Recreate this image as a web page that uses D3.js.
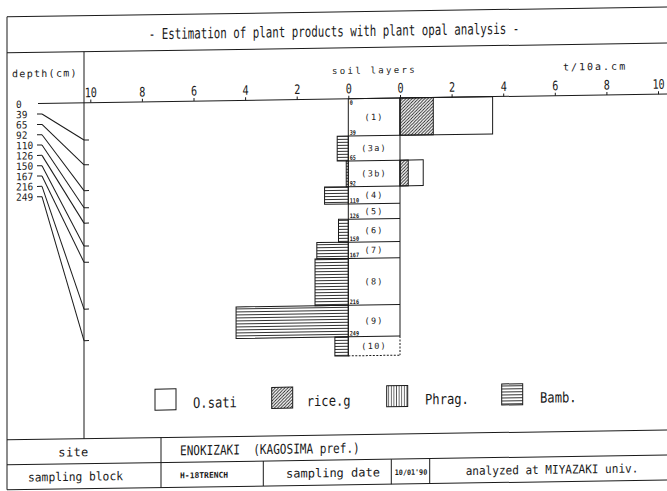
<!DOCTYPE html>
<html>
<head>
<meta charset="utf-8">
<script src="https://cdn.jsdelivr.net/npm/d3@7"></script>
<style>
html, body { margin: 0; padding: 0; background: #fff; }
svg { display: block; }
text { font-family: "DejaVu Sans Mono", monospace; fill: #1a1a1a; white-space: pre; }
</style>
</head>
<body>
<svg id="chart" width="667" height="491"></svg>
<script>
// Soil layers and their depth boundaries (cm)
const layers      = ["(1)", "(3a)", "(3b)", "(4)", "(5)", "(6)", "(7)", "(8)", "(9)", "(10)"];
const depthTop    = [0, 39, 65, 92, 110, 126, 150, 167, 216, 249];
const depthBottom = [39, 65, 92, 110, 126, 150, 167, 216, 249, 269];
const depthLabels = [0, 39, 65, 92, 110, 126, 150, 167, 216, 249];

// Estimated plant products (t/10a.cm) per layer
const oSati = [3.59, 0, 0.90, 0, 0, 0, 0, 0, 0, 0];
const riceG = [1.29, 0, 0.32, 0, 0, 0, 0, 0, 0, 0];
const phrag = [0, 0, 0, 0, 0, 0, 0, 0, 0, 0];
const bamb  = [0, 0.43, 0.08, 0.92, 0, 0.38, 1.22, 1.29, 4.35, 0.52];

// Axis ticks
const leftTicks  = [10, 8, 6, 4, 2, 0];
const rightTicks = [0, 2, 4, 6, 8, 10];

// Legend and text blocks
const legendNames = ["O.sati", "rice.g", "Phrag.", "Bamb."];
const legendFills = ["#fff", "url(#hatchDiag)", "url(#hatchVert)", "url(#hatchHorz)"];
const titleText   = "- Estimation of plant products with plant opal analysis -";
const siteName    = "ENOKIZAKI  (KAGOSIMA pref.)";
const blockName   = "H-18TRENCH";
const sampleDate  = "10/01'90";
const analyzedAt  = "analyzed at MIYAZAKI univ.";

const svg = d3.select("#chart");
const INK = "#1a1a1a";

// patterns
const defs = svg.append("defs");
defs.append("pattern").attr("id", "hatchDiag").attr("patternUnits", "userSpaceOnUse")
  .attr("width", 3.2).attr("height", 3.2)
  .append("path").attr("d", "M-1,1 L1,-1 M0,3.2 L3.2,0 M2.2,4.2 L4.2,2.2")
  .attr("stroke", INK).attr("stroke-width", 0.9);
defs.append("pattern").attr("id", "hatchHorz").attr("patternUnits", "userSpaceOnUse")
  .attr("width", 4).attr("height", 3)
  .append("line").attr("x1", 0).attr("x2", 4).attr("y1", 1.5).attr("y2", 1.5)
  .attr("stroke", INK).attr("stroke-width", 0.8);
defs.append("pattern").attr("id", "hatchVert").attr("patternUnits", "userSpaceOnUse")
  .attr("width", 2.6).attr("height", 4)
  .append("line").attr("x1", 1.3).attr("x2", 1.3).attr("y1", 0).attr("y2", 4)
  .attr("stroke", INK).attr("stroke-width", 0.7);

// the plotted sheet sits slightly askew
const skewDeg = -0.85;
const kk = Math.tan(skewDeg * Math.PI / 180);
const root = svg.append("g").attr("transform", `translate(0,${-kk * 333}) skewY(${skewDeg})`);

function txt(g, s, x, y, o = {}) {
  return g.append("text")
    .attr("transform", `translate(${x},${y}) scale(${o.sx || 1},1)`)
    .attr("font-size", o.size || 12)
    .attr("text-anchor", o.anchor || "start")
    .attr("letter-spacing", o.ls || 0)
    .attr("font-weight", o.bold ? "bold" : "normal")
    .attr("xml:space", "preserve")
    .text(s);
}
function line(g, x1, y1, x2, y2, dash) {
  const l = g.append("line").attr("x1", x1).attr("y1", y1).attr("x2", x2).attr("y2", y2)
    .attr("stroke", INK).attr("stroke-width", 1);
  if (dash) l.attr("stroke-dasharray", dash);
  return l;
}

// scales
const y  = d3.scaleLinear().domain([0, 249]).range([99, 337]);
const xL = d3.scaleLinear().domain([0, 10]).range([348.3, 90.3]);
const xR = d3.scaleLinear().domain([0, 10]).range([400, 658]);

// frame and title
line(root, 7, 12, 700, 12);
line(root, 7, 48, 700, 48);
line(root, 7, 12, 7, 485);
txt(root, titleText, 334, 36.5, { size: 15, sx: 0.72, anchor: "middle" });

// depth column
line(root, 84, 48, 84, 435);
txt(root, "depth(cm)", 12, 72.6, { size: 10, ls: 1.3 });
txt(root, "soil layers", 332, 74, { size: 9, ls: 2.3 });
txt(root, "t/10a.cm", 563, 74, { size: 10, ls: 2 });

// bars: left (Bamb., Phrag.), right (O.sati, rice.g)
const rows = layers.map((name, i) => ({
  name, i, top: depthTop[i], bot: depthBottom[i],
  oSati: oSati[i], riceG: riceG[i], phrag: phrag[i], bamb: bamb[i]
}));
const bars = root.append("g");
function drawBars(key, scale, fill, left) {
  bars.selectAll(null).data(rows.filter(d => d[key] > 0)).enter().append("rect")
    .attr("x", d => left ? scale(d[key]) : scale(0))
    .attr("width", d => Math.abs(scale(d[key]) - scale(0)))
    .attr("y", d => y(d.top))
    .attr("height", d => y(d.bot) - y(d.top))
    .attr("fill", fill).attr("stroke", INK).attr("stroke-width", 1);
}
drawBars("bamb", xL, "url(#hatchHorz)", true);
drawBars("phrag", xL, "url(#hatchVert)", true);
drawBars("oSati", xR, "#fff", false);
drawBars("riceG", xR, "url(#hatchDiag)", false);

// soil layer column
const colL = xL(0), colR = xR(0), colM = (colL + colR) / 2;
const last = rows.length - 1;
line(root, colL, y(0), colL, y(depthBottom[last]));
line(root, colR, y(0), colR, y(depthTop[last]));
line(root, colR, y(depthTop[last]), colR, y(depthBottom[last]), "2,1.5");
line(root, colL, y(depthBottom[last]), colR, y(depthBottom[last]), "2,1.5");
rows.forEach(d => {
  line(root, colL, y(d.top), colR, y(d.top));
  txt(root, d.name, colM, (y(d.top) + y(d.bot)) / 2 + 3, { size: 8.5, ls: 1.3, anchor: "middle" });
});
depthLabels.forEach(dv => {
  const yy = dv === 0 ? y(dv) + 6 : y(dv) - 1.2;
  txt(root, String(dv), colL + 1.5, yy, { size: 6, bold: true, sx: 0.85 });
});

// top axes
const axisY = y(0);
line(root, 38, axisY, 700, axisY);
function styleAxis(sel) {
  sel.select(".domain").remove();
  sel.selectAll(".tick line").attr("stroke", INK);
  sel.selectAll(".tick text").attr("font-size", 13).attr("fill", INK)
    .attr("font-family", "DejaVu Sans Mono, monospace")
    .attr("transform", "scale(0.78,1)").attr("y", -5.5);
}
root.append("g").attr("transform", `translate(0,${axisY})`)
  .call(d3.axisTop(xL).tickValues(leftTicks).tickSize(3).tickFormat(d3.format("d")))
  .call(styleAxis);
root.append("g").attr("transform", `translate(0,${axisY})`)
  .call(d3.axisTop(xR).tickValues(rightTicks).tickSize(3).tickFormat(d3.format("d")))
  .call(styleAxis);

// depth labels with leader lines to the depth axis
depthLabels.forEach((dv, i) => {
  const ly = 99.4 + i * 10.33;
  txt(root, String(dv), 16, ly + 3.8, { size: 10, sx: 0.95 });
  if (i > 0) {
    line(root, 37, ly, 42, ly);
    line(root, 42, ly, 84, y(dv));
    line(root, 84, y(dv), 89, y(dv));
  }
});

// legend
const legX = [155, 271.7, 386.7, 501.7];
const legT = [193, 306.7, 425, 540];
legendNames.forEach((n, i) => {
  root.append("rect").attr("x", legX[i]).attr("y", 386.5).attr("width", 21).attr("height", 21)
    .attr("fill", legendFills[i]).attr("stroke", INK).attr("stroke-width", 1);
  txt(root, n, legT[i], 405.8, { size: 14.5, sx: 0.84 });
});

// info table
line(root, 7, 435, 700, 435);
line(root, 7, 460, 700, 460);
line(root, 7, 485, 700, 485);
line(root, 161, 435, 161, 485);
line(root, 263.3, 460, 263.3, 485);
line(root, 391.3, 460, 391.3, 485);
line(root, 429.7, 460, 429.7, 485);
txt(root, "site", 73.5, 452.5, { size: 12, ls: 0.4, anchor: "middle" });
txt(root, siteName, 180, 453, { size: 13.5, sx: 0.82 });
txt(root, "sampling block", 75.5, 477, { size: 12, sx: 0.94, anchor: "middle" });
txt(root, blockName, 180, 476, { size: 8, bold: true });
txt(root, "sampling date", 333, 477, { size: 12, anchor: "middle" });
txt(root, sampleDate, 411, 476, { size: 7.5, bold: true, sx: 0.9, anchor: "middle" });
txt(root, analyzedAt, 552, 477, { size: 12, sx: 0.92, anchor: "middle" });
</script>
</body>
</html>
